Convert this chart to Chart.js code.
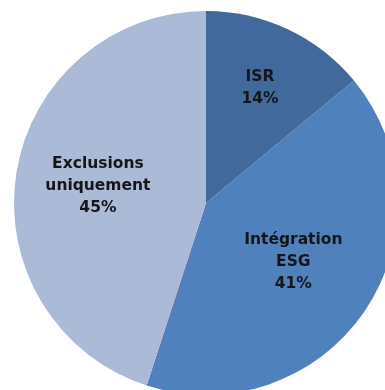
<!DOCTYPE html>
<html>
<head>
<meta charset="utf-8">
<script src="https://cdn.jsdelivr.net/npm/chart.js@4"></script>
<style>
    html, body { margin: 0; padding: 0; background: #ffffff; }
    body { width: 385px; height: 390px; overflow: hidden; position: relative; }
    #wrap { position: absolute; left: 14px; top: 11px; width: 384px; height: 384px; }
</style>
</head>
<body>
<div id="wrap"><canvas id="pieChart"></canvas></div>
<script>
// Approach breakdown
const categories = [['ISR'], ['Intégration', 'ESG'], ['Exclusions', 'uniquement']];
const shares = [14, 41, 45];
const sliceColors = ['#41699b', '#4f81bd', '#abbad7'];
// where each label sits along the slice radius
const labelRadius = [0.66, 0.55, 0.57];

// Draws the category name and percentage inside each slice
const sliceLabels = {
    id: 'sliceLabels',
    afterDatasetsDraw(chart) {
        const ctx = chart.ctx;
        const meta = chart.getDatasetMeta(0);
        ctx.save();
        ctx.font = 'bold 15.5px "DejaVu Sans", sans-serif';
        ctx.fillStyle = '#161616';
        ctx.textAlign = 'center';
        ctx.textBaseline = 'middle';
        meta.data.forEach((arc, i) => {
            const p = arc.getProps(['x', 'y', 'startAngle', 'endAngle', 'outerRadius'], true);
            const mid = (p.startAngle + p.endAngle) / 2;
            const r = p.outerRadius * labelRadius[i];
            const cx = p.x + Math.cos(mid) * r;
            const cy = p.y + Math.sin(mid) * r;
            const lines = categories[i].concat([shares[i] + '%']);
            const lh = 22;
            const top = cy - (lines.length - 1) * lh / 2;
            lines.forEach((t, j) => ctx.fillText(t, cx, top + j * lh));
        });
        ctx.restore();
    }
};

new Chart(document.getElementById('pieChart'), {
    type: 'pie',
    data: {
        labels: categories.map(c => c.join(' ')),
        datasets: [{
            data: shares,
            backgroundColor: sliceColors,
            borderWidth: 0
        }]
    },
    options: {
        responsive: true,
        maintainAspectRatio: false,
        animation: false,
        layout: { padding: 0 },
        plugins: {
            legend: { display: false },
            tooltip: { enabled: false }
        }
    },
    plugins: [sliceLabels]
});
</script>
</body>
</html>
